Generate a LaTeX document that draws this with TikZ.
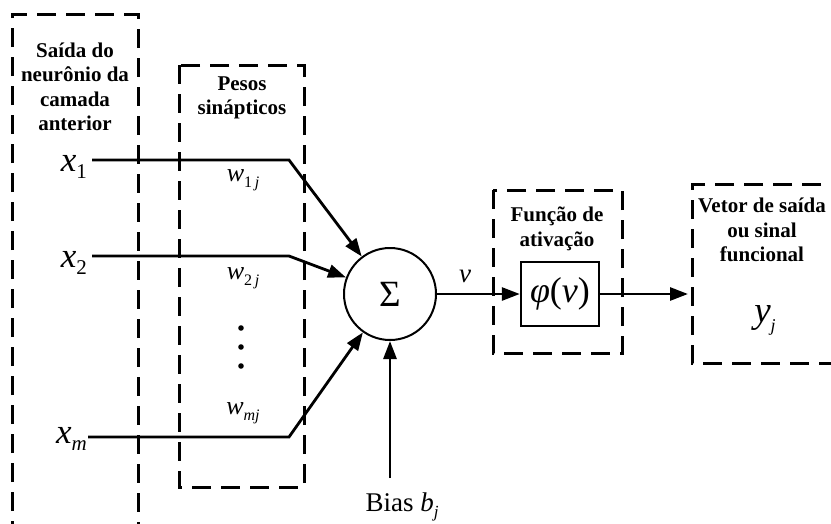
\documentclass[tikz,border=0pt]{standalone}
\usepackage{fontspec}
\setmainfont{Liberation Serif}
\usetikzlibrary{arrows.meta}
\begin{document}
\begin{tikzpicture}[x=1pt,y=-1pt,
  dbox/.style={draw, line width=3pt, dash pattern=on 19pt off 10pt},
  conn/.style={line width=2.8pt},
  arr/.style={line width=2.8pt, -{Triangle[length=18pt,width=13pt]}},
  lbl/.style={font=\fontsize{21}{24.5}\selectfont\bfseries, align=center, inner sep=0pt},
  inlbl/.style={font=\fontsize{35}{35}\selectfont, inner sep=0pt},
  wlbl/.style={font=\fontsize{26}{26}\selectfont, inner sep=0pt},
]
\useasboundingbox (0,0) rectangle (831,523);
% dashed frames
\draw[dbox] (12,540) -- (12,14) -- (138,14) -- (138,540);
\draw[dbox] (179,65) rectangle (304,487);
\draw[dbox] (493,190) rectangle (622,353);
\draw[dbox] (850,184) -- (692,184) -- (692,363) -- (850,363);
% frame titles
\node[lbl] (tin) at (75,87) {Saída do\\neurônio da\\camada\\anterior};
\node[lbl] (tw) at (242,98) {Pesos\\sinápticos};
\node[lbl] (tact) at (557,229) {Função de\\ativação};
\node[lbl] (tout) at (762,230) {Vetor de saída\\ou sinal\\funcional};
% inputs
\node[inlbl, anchor=base east] (x1) at (87,171) {\textit{x}\raisebox{-7pt}{\fontsize{21}{21}\selectfont 1}};
\node[inlbl, anchor=base east] (x2) at (87,267) {\textit{x}\raisebox{-7pt}{\fontsize{21}{21}\selectfont 2}};
\node[inlbl, anchor=base east] (xm) at (87,443) {\textit{x}\raisebox{-7pt}{\fontsize{21}{21}\selectfont\itshape m}};
\coordinate (a1) at (92,160);
\coordinate (a2) at (92,256);
\coordinate (am) at (88,437);
\coordinate (b1) at (289,160);
\coordinate (b2) at (289,256);
\coordinate (bm) at (289,437);
% weights
\node[wlbl] (w1) at (243,180) {\textit{w}\raisebox{-6pt}{\fontsize{16}{16}\selectfont 1\,\itshape j}};
\node[wlbl] (w2) at (243,278) {\textit{w}\raisebox{-6pt}{\fontsize{16}{16}\selectfont 2\,\itshape j}};
\node[wlbl] (wm) at (243,413) {\textit{w}\raisebox{-6pt}{\fontsize{16}{16}\selectfont\itshape mj}};
\fill (241,328) circle (2.8pt);
\fill (241,347) circle (2.8pt);
\fill (241,366) circle (2.8pt);
% summing junction
\node[circle, draw, line width=2pt, minimum size=92pt, inner sep=0pt, font=\fontsize{37}{37}\selectfont] (sum) at (390,294) {Σ};
\draw[arr] (a1) -- (b1) -- (sum);
\draw[arr] (a2) -- (b2) -- (sum);
\draw[arr] (am) -- (bm) -- (sum);
% bias
\node[font=\fontsize{27}{27}\selectfont, inner sep=0pt] (bias) at (402,507) {Bias \textit{b}\raisebox{-6pt}{\fontsize{17}{17}\selectfont\itshape j}};
\coordinate (bb) at (390,478);
\draw[arr] (bb) -- (sum.south);
% activation
\node[draw, line width=2.4pt, minimum width=78pt, minimum height=64pt, inner sep=0pt, font=\fontsize{36}{36}\selectfont] (phi) at (560,294) {\textit{φ}(\textit{v})};
\draw[arr] (sum.east) -- (phi.west);
\node[font=\fontsize{27}{27}\selectfont\itshape, inner sep=0pt] (vl) at (465,276) {v};
\coordinate (o) at (688,294);
\draw[arr] (phi.east) -- (o);
% output
\node[font=\fontsize{37}{37}\selectfont, inner sep=0pt] (yj) at (765,320) {\textit{y}\raisebox{-9pt}{\fontsize{18}{18}\selectfont\itshape j}};
\end{tikzpicture}
\end{document}
